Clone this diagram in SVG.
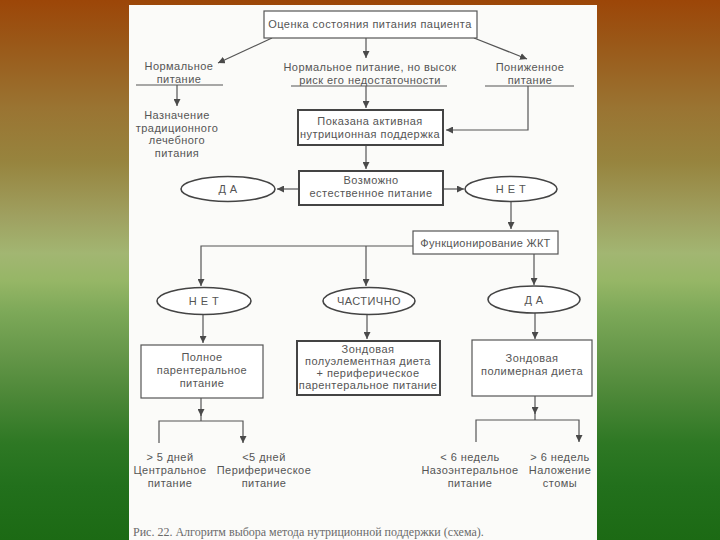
<svg xmlns="http://www.w3.org/2000/svg" width="720" height="540" viewBox="0 0 720 540">
<defs>
<linearGradient id="bg" x1="0" y1="0" x2="0" y2="1">
<stop offset="0" stop-color="#9c4608"/>
<stop offset="0.08" stop-color="#9a5818"/>
<stop offset="0.2" stop-color="#9a7432"/>
<stop offset="0.3" stop-color="#97843e"/>
<stop offset="0.4" stop-color="#9fa060"/>
<stop offset="0.47" stop-color="#a2b672"/>
<stop offset="0.52" stop-color="#96b666"/>
<stop offset="0.58" stop-color="#7ca858"/>
<stop offset="0.66" stop-color="#649648"/>
<stop offset="0.74" stop-color="#4a8636"/>
<stop offset="0.82" stop-color="#2e7824"/>
<stop offset="0.9" stop-color="#22701c"/>
<stop offset="1" stop-color="#1c6a14"/>
</linearGradient>
<marker id="ar" markerUnits="userSpaceOnUse" markerWidth="8" markerHeight="7" refX="7" refY="3.5" orient="auto">
<path d="M0,0 L7,3.5 L0,7 Z" fill="#4a4a4a"/>
</marker>
</defs>
<style>
.t{font-family:"Liberation Sans",Arial,sans-serif;font-size:11px;letter-spacing:0.45px;fill:#555;text-anchor:middle}
.s{letter-spacing:0.3px}
.cap{font-family:"Liberation Serif","Times New Roman",serif;font-size:12px;fill:#6a6a6a}
.b{fill:#fff;stroke:#555;stroke-width:1.2}
.bb{fill:#fff;stroke:#444;stroke-width:2}
.e{fill:#fff;stroke:#444;stroke-width:1.6}
.ln{fill:none;stroke:#555;stroke-width:1.2}
.la{fill:none;stroke:#555;stroke-width:1.2;marker-end:url(#ar)}
</style>
<rect x="0" y="0" width="720" height="540" fill="url(#bg)"/>
<rect x="129" y="5" width="468" height="535" fill="#fbfbf9"/>

<g id="connectors">
<line class="la" x1="272" y1="38" x2="218" y2="63"/>
<line class="la" x1="366" y1="38" x2="366" y2="58"/>
<line class="la" x1="474" y1="38" x2="527" y2="59"/>
<line class="ln" x1="136" y1="85" x2="223" y2="85"/>
<line class="ln" x1="291" y1="86" x2="447" y2="86"/>
<line class="ln" x1="485" y1="86" x2="574" y2="86"/>
<line class="la" x1="177" y1="85" x2="177" y2="106"/>
<line class="la" x1="366" y1="86" x2="366" y2="108"/>
<polyline class="la" points="528,86 528,130 446,130"/>
<line class="la" x1="366" y1="145" x2="366" y2="169"/>
<line class="la" x1="299" y1="189" x2="277" y2="189"/>
<line class="la" x1="444" y1="189" x2="464" y2="189"/>
<line class="la" x1="511" y1="202" x2="511" y2="229"/>
<polyline class="la" points="413,246 201,246 201,286"/>
<line class="la" x1="366" y1="246" x2="366" y2="286"/>
<line class="la" x1="534" y1="254" x2="534" y2="285"/>
<line class="la" x1="203" y1="315" x2="203" y2="343"/>
<line class="la" x1="367" y1="315" x2="367" y2="339"/>
<line class="la" x1="535" y1="313" x2="535" y2="339"/>
<line class="la" x1="201" y1="398" x2="201" y2="416"/>
<line class="ln" x1="201" y1="414" x2="201" y2="421"/>
<polyline class="la" points="159,443 159,421 243,421 243,443"/>
<line class="la" x1="535" y1="396" x2="535" y2="414"/>
<line class="ln" x1="535" y1="412" x2="535" y2="420"/>
<polyline class="la" points="476,442 476,420 579,420 579,442"/>
</g>

<g id="n-assess">
<rect class="b" x="264" y="11" width="213" height="27"/>
<text class="t" x="370" y="28">Оценка состояния питания пациента</text>
</g>
<g id="n-normal">
<text class="t" x="179" y="70">Нормальное</text>
<text class="t" x="179" y="82.5">питание</text>
</g>
<g id="n-risk">
<text class="t" x="370" y="70.5">Нормальное питание, но высок</text>
<text class="t" x="370" y="83.5">риск его недостаточности</text>
</g>
<g id="n-low">
<text class="t" x="530" y="70.5">Пониженное</text>
<text class="t" x="530" y="83.5">питание</text>
</g>
<g id="n-traditional">
<text class="t" x="177" y="119">Назначение</text>
<text class="t" x="177" y="131.5">традиционного</text>
<text class="t" x="177" y="144">лечебного</text>
<text class="t" x="177" y="156.5">питания</text>
</g>
<g id="n-active">
<rect class="bb" x="298" y="110" width="145" height="35"/>
<text class="t" x="370" y="125">Показана активная</text>
<text class="t" x="370" y="138">нутриционная поддержка</text>
</g>
<g id="n-natural">
<rect class="bb" x="299" y="171" width="144" height="34"/>
<text class="t" x="371" y="184">Возможно</text>
<text class="t" x="371" y="197">естественное питание</text>
</g>
<g id="n-yes1">
<ellipse class="e" cx="228" cy="189" rx="47" ry="12.5"/>
<text class="t" x="228" y="193" letter-spacing="2">Д А</text>
</g>
<g id="n-no1">
<ellipse class="e" cx="511" cy="189" rx="46" ry="12.5"/>
<text class="t" x="511" y="193" letter-spacing="2">Н Е Т</text>
</g>
<g id="n-git">
<rect class="b" x="413" y="231" width="145" height="23"/>
<text class="t s" x="485.5" y="246.5">Функционирование ЖКТ</text>
</g>
<g id="n-no2">
<ellipse class="e" cx="204" cy="301" rx="47" ry="13.5"/>
<text class="t" x="204" y="305" letter-spacing="2">Н Е Т</text>
</g>
<g id="n-partial">
<ellipse class="e" cx="369" cy="301" rx="46" ry="13.5"/>
<text class="t" x="369" y="305">ЧАСТИЧНО</text>
</g>
<g id="n-yes2">
<ellipse class="e" cx="534" cy="299.5" rx="46" ry="13.5"/>
<text class="t" x="534" y="303.5" letter-spacing="1.5">Д А</text>
</g>
<g id="n-parenteral">
<rect class="b" x="141" y="345" width="122" height="53"/>
<text class="t" x="202" y="361">Полное</text>
<text class="t" x="202" y="374">парентеральное</text>
<text class="t" x="202" y="387">питание</text>
</g>
<g id="n-semi">
<rect class="bb" x="297" y="341" width="143" height="54"/>
<text class="t" x="368" y="352.5">Зондовая</text>
<text class="t" x="368" y="364.5">полуэлементная диета</text>
<text class="t" x="368" y="376.5">+ периферическое</text>
<text class="t" x="368" y="388.5">парентеральное питание</text>
</g>
<g id="n-polymer">
<rect class="b" x="472" y="340" width="120" height="56"/>
<text class="t" x="532" y="362">Зондовая</text>
<text class="t" x="532" y="375">полимерная диета</text>
</g>
<g id="n-central">
<text class="t" x="170" y="461">&gt; 5 дней</text>
<text class="t" x="170" y="474">Центральное</text>
<text class="t" x="170" y="487">питание</text>
</g>
<g id="n-peripheral">
<text class="t" x="264" y="461">&lt;5 дней</text>
<text class="t" x="264" y="474">Периферическое</text>
<text class="t" x="264" y="487">питание</text>
</g>
<g id="n-naso">
<text class="t" x="470" y="461">&lt; 6 недель</text>
<text class="t" x="470" y="474">Назоэнтеральное</text>
<text class="t" x="470" y="487">питание</text>
</g>
<g id="n-stoma">
<text class="t" x="560" y="461">&gt; 6 недель</text>
<text class="t" x="560" y="474">Наложение</text>
<text class="t" x="560" y="487">стомы</text>
</g>
<text class="cap" x="133" y="536">Рис. 22. Алгоритм выбора метода нутриционной поддержки (схема).</text>
</svg>
